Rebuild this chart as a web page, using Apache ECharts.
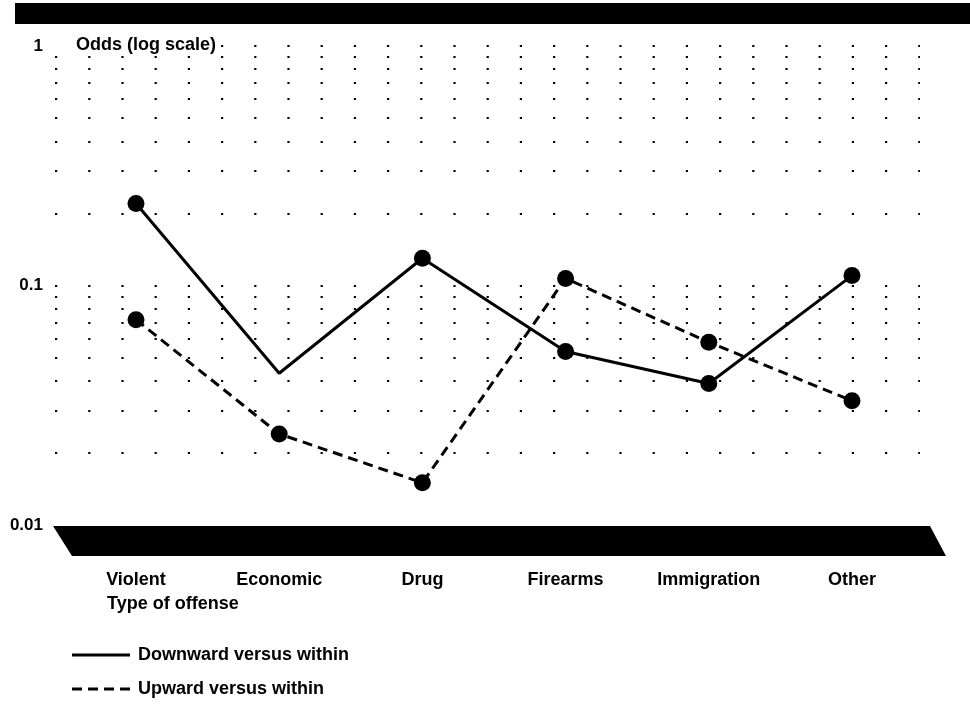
<!DOCTYPE html>
<html><head><meta charset="utf-8">
<script src="https://cdn.jsdelivr.net/npm/echarts@6/dist/echarts.min.js"></script>
<style>html,body{margin:0;padding:0;background:#fff}#c{width:970px;height:708px}</style>
</head><body><div id="c"></div>
<script>
// ---- data ----
const categories = ['Violent', 'Economic', 'Drug', 'Firearms', 'Immigration', 'Other'];
const seriesNames = ['Downward versus within', 'Upward versus within'];
const downward = [0.22, 0.043, 0.13, 0.053, 0.039, 0.11];
const downwardMarked = [true, false, true, true, true, true];
const upward = [0.072, 0.024, 0.015, 0.107, 0.058, 0.033];
const yTicks = [0.01, 0.1, 1];
const gridRows = [1, 0.9, 0.8, 0.7, 0.6, 0.5, 0.4, 0.3, 0.2, 0.1, 0.09, 0.08, 0.07, 0.06, 0.05, 0.04, 0.03, 0.02];
const yAxisTitle = 'Odds (log scale)';
const xAxisTitle = 'Type of offense';

const FONT = '"Liberation Sans", Arial, Helvetica, sans-serif';
const txt = { fontSize: 18, fontWeight: 'bold', color: '#000', fontFamily: FONT };

const chart = echarts.init(document.getElementById('c'), null, { renderer: 'canvas' });
chart.setOption({
  animation: false,
  backgroundColor: '#fff',
  textStyle: { fontFamily: FONT },
  title: [
    { text: yAxisTitle, left: 50, top: 36, padding: [0, 4, 0, 26], backgroundColor: '#fff', textStyle: txt },
    { text: xAxisTitle, left: 107, top: 595, padding: 0, textStyle: txt }
  ],
  legend: {
    left: 72, top: 646, padding: 0, orient: 'vertical', itemWidth: 58, itemHeight: 3, itemGap: 16,
    selectedMode: false, textStyle: Object.assign({ padding: [0, 0, 0, 3] }, txt),
    data: [
      { name: seriesNames[0], icon: 'path://M0,0H58V3H0Z' },
      { name: seriesNames[1], icon: 'path://M0,0H10V3H0ZM16,0H26V3H16ZM32,0H42V3H32ZM48,0H58V3H48Z' }
    ]
  },
  grid: [
    { left: 136, right: 118, top: 46, bottom: 183 },
    { left: 55, width: 865, top: 46, bottom: 183 }
  ],
  xAxis: [
    { type: 'category', gridIndex: 0, data: categories, boundaryGap: false,
      axisLine: { show: false }, axisTick: { show: false }, splitLine: { show: false },
      axisLabel: Object.assign({ margin: 46 }, txt) },
    { type: 'value', gridIndex: 1, min: 0, max: 1, show: false }
  ],
  yAxis: [
    { type: 'log', logBase: 10, gridIndex: 0, min: 0.01, max: 1, show: false },
    { type: 'log', logBase: 10, gridIndex: 1, min: 0.01, max: 1,
      axisLine: { show: false }, axisTick: { show: false }, splitLine: { show: false },
      axisLabel: Object.assign({ margin: 12, formatter: v => {
        const t = yTicks.find(t => Math.abs(t - v) / t < 1e-6);
        return t === undefined ? '' : String(t);
      } }, txt, { fontSize: 17 }) }
  ],
  graphic: [
    { type: 'rect', shape: { x: 15, y: 3, width: 955, height: 21 }, style: { fill: '#000' }, silent: true },
    { type: 'polygon', shape: { points: [[53, 526], [930, 526], [946, 556], [72, 556]] }, style: { fill: '#000' }, silent: true }
  ],
  series: [
    { type: 'line', xAxisIndex: 1, yAxisIndex: 1, data: [], silent: true, z: 1,
      markLine: { silent: true, symbol: 'none', label: { show: false },
        lineStyle: { color: '#000', width: 2.2, type: [2.2, 31], cap: 'butt' },
        emphasis: { disabled: true },
        data: gridRows.map(v => ({ yAxis: v })) } },
    { name: seriesNames[0], type: 'line', xAxisIndex: 0, yAxisIndex: 0, z: 3,
      data: downward.map((v, i) => downwardMarked[i] ? v : { value: v, symbol: 'none' }),
      symbol: 'circle', symbolSize: 17, showAllSymbol: true,
      lineStyle: { color: '#000', width: 3, type: 'solid' }, itemStyle: { color: '#000' } },
    { name: seriesNames[1], type: 'line', xAxisIndex: 0, yAxisIndex: 0, z: 3,
      data: upward, symbol: 'circle', symbolSize: 17, showAllSymbol: true,
      lineStyle: { color: '#000', width: 3, type: [10, 6] }, itemStyle: { color: '#000' } }
  ]
});
</script></body></html>
